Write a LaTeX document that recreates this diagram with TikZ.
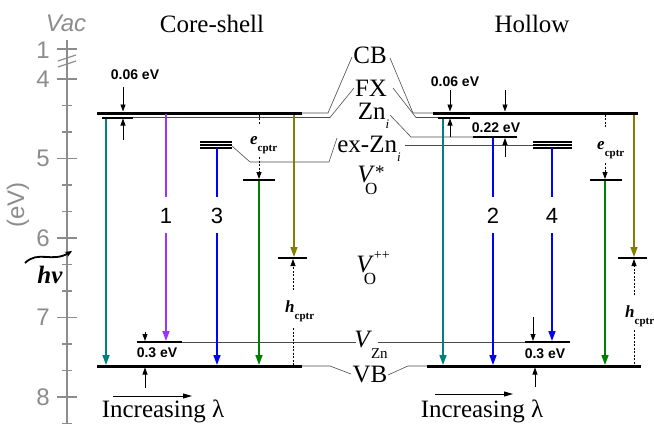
\documentclass[tikz,border=0pt]{standalone}
\usepackage{fontspec}
\setmainfont{Liberation Serif}
\setsansfont{Liberation Sans}
\usetikzlibrary{arrows.meta}
\definecolor{axgray}{RGB}{140,140,140}
\definecolor{tealc}{RGB}{0,128,128}
\definecolor{purpc}{RGB}{153,51,255}
\definecolor{bluec}{RGB}{0,0,255}
\definecolor{grnc}{RGB}{0,128,0}
\definecolor{olvc}{RGB}{128,128,0}
\newcommand\fs[1]{\fontsize{#1}{#1}\selectfont}
\newcommand\capt[1]{\textbf{\textit{#1}}\raisebox{-7pt}{\fs{11}\bfseries cptr}}
\begin{document}
\begin{tikzpicture}[x=1pt,y=-1pt,
  axis/.style={axgray,line width=1.6pt},
  ticklab/.style={axgray,font=\sffamily\fs{24},inner sep=0pt},
  lvl/.style={line width=3pt},
  bar/.style={line width=2pt},
  tri/.style={line width=1.3pt},
  thinl/.style={black!70,line width=0.6pt},
  tr/.style={line width=1.5pt,-{Triangle[length=10pt,width=7pt]}},
  trn/.style={line width=1.5pt},
  sm/.style={line width=0.8pt,-{Triangle[length=7pt,width=5pt]}},
  dsh/.style={line width=0.8pt,dash pattern=on 2pt off 1.5pt},
  dsha/.style={dsh,-{Triangle[length=7pt,width=5pt]}},
  lab/.style={inner sep=0pt,font=\fs{25}},
  ev/.style={inner sep=0pt,font=\sffamily\bfseries\fs{14}},
  num/.style={inner sep=0pt,font=\sffamily\fs{22}},
  captxt/.style={inner sep=0pt,font=\fs{17},anchor=base west},
  tit/.style={inner sep=0pt,font=\fs{25},anchor=base}]
\useasboundingbox (0,0) rectangle (654,424);
% ---------- axis ----------
\coordinate (axT) at (67,40);
\coordinate (axB) at (67,424);
\draw[axis] (axT) -- (axB);
\draw[axis] (57,49) -- (77,49);
\node[ticklab] (t1) at (43,50) {1};
\draw[axis,line width=1.2pt] (58,61) -- (76,55);
\draw[axis,line width=1.2pt] (58,67) -- (76,61);
\foreach \e in {4,5,6,7,8}{
  \draw[axis] (57,{79+(\e-4)*79.5}) -- (77,{79+(\e-4)*79.5});
  \node[ticklab] (t\e) at (43,{79+(\e-4)*79.5}) {\e};
}
\foreach \k in {1,2,4,5,7,8,10,11,13}{
  \draw[axis] (62,{79+\k*26.5}) -- (72,{79+\k*26.5});
}
\node[inner sep=0pt,axgray,font=\sffamily\itshape\fs{24},anchor=base] (vac) at (66,31) {Vac};
\node[inner sep=0pt,axgray,font=\sffamily\fs{24},rotate=90] (evu) at (18,205) {(eV)};
\node[inner sep=0pt,font=\bfseries\itshape\fs{25},anchor=base] (hnu) at (50,283) {hν};
\coordinate (w1) at (25,263);
\coordinate (w2) at (72,251);
\draw[line width=1.8pt,-{Stealth[length=7pt,width=6pt]}] (w1) .. controls (38,250) and (52,263) .. (w2);
% ---------- titles ----------
\node[tit] (tcs) at (212,32) {Core-shell};
\node[tit] (tho) at (532,32) {Hollow};
% ---------- core-shell levels ----------
\draw[lvl] (97,113) coordinate (cbLa) -- (302,113) coordinate (cbLb);
\draw[lvl] (97,366) coordinate (vbLa) -- (302,366) coordinate (vbLb);
\draw[bar] (102,117.5) coordinate (fxLa) -- (133,117.5) coordinate (fxLb);
\foreach \yy in {142,145,148}{\draw[tri] (200,\yy) -- (232,\yy);}
\coordinate (trLb) at (232,146);
\draw[bar] (243,180) coordinate (voLa) -- (275,180) coordinate (voLb);
\draw[bar] (278,258) coordinate (vpLa) -- (307,258) coordinate (vpLb);
\draw[bar] (137,342) coordinate (vzLa) -- (182,342) coordinate (vzLb);
% ---------- hollow levels ----------
\draw[lvl] (433,113) coordinate (cbRa) -- (638,113) coordinate (cbRb);
\draw[lvl] (427,366) coordinate (vbRa) -- (641,366) coordinate (vbRb);
\draw[bar] (438,117.5) coordinate (fxRa) -- (470,117.5) coordinate (fxRb);
\draw[bar] (473,137) coordinate (znRa) -- (517,137) coordinate (znRb);
\foreach \yy in {142,145,148}{\draw[tri] (533,\yy) -- (572,\yy);}
\coordinate (trRa) at (533,145);
\draw[bar] (590,180) coordinate (voRa) -- (622,180) coordinate (voRb);
\draw[bar] (618,258) coordinate (vpRa) -- (647,258) coordinate (vpRb);
\draw[bar] (525,342) coordinate (vzRa) -- (570,342) coordinate (vzRb);
% ---------- middle labels ----------
\node[lab,anchor=base] (cbT) at (370,63) {CB};
\node[lab,anchor=base] (fxT) at (371,96) {FX};
\node[lab,anchor=base] (znT) at (373.5,119) {Zn\raisebox{-9pt}{\fs{13}\itshape i}};
\node[lab,anchor=base] (exT) at (369,152) {ex-Zn\raisebox{-9pt}{\fs{13}\itshape i}};
\node[lab,anchor=base] (voT) at (371,182) {\textit{V}\raisebox{-12.5pt}{\rlap{\kern-10pt\fs{17}O}}\raisebox{4pt}{\fs{19}*}};
\node[lab,anchor=base] (vpT) at (373,272) {\textit{V}\raisebox{-12.5pt}{\rlap{\kern-10pt\fs{17}O}}\raisebox{13pt}{\fs{14}++}};
\node[lab,anchor=base] (vzT) at (371,347) {\textit{V}\kern-1pt\raisebox{-11pt}{\fs{15}Zn}};
\node[lab,anchor=base] (vbT) at (370,382) {VB};
% ---------- connector lines ----------
\draw[thinl] (cbLb) -- (328,113) -- (352,57);
\draw[thinl] (fxLb) -- (330,117.5) -- (354,88);
\draw[thinl] (390,58) -- (413,113) -- (cbRa);
\draw[thinl] (393,88) -- (416,117.5) -- (fxRa);
\draw[thinl] (390,115) -- (411,137) -- (znRa);
\draw[thinl] (trLb) -- (250,162) -- (329,162) -- (337,138);
\draw[thinl] (405,145) -- (trRa);
\draw[thinl] (vzLb) -- (356,342);
\draw[thinl] (378,342) -- (vzRa);
\draw[thinl] (vbLb) -- (330,366) -- (351,374);
\draw[thinl] (388,375) -- (408,366) -- (vbRa);
% ---------- core-shell transitions ----------
\draw[tr,tealc] (106,118.5) -- (106,365);
\draw[trn,purpc] (166,114) -- (166,197);
\node[num] (n1) at (166,216) {1};
\draw[tr,purpc] (166,233) -- (166,341);
\draw[trn,bluec] (217,148) -- (217,197);
\node[num] (n3) at (217,216) {3};
\draw[tr,bluec] (217,233) -- (217,365);
\draw[tr,grnc] (259,181) -- (259,365);
\draw[tr,olvc] (294,114.5) -- (294,257);
\draw[sm] (123,87) -- (123,111.5);
\draw[sm] (123,140) -- (123,118.5);
\node[ev] (evL1) at (135,75) {0.06 eV};
\draw[sm] (145,332) -- (145,341);
\draw[sm] (145,388) -- (145,367.5);
\node[ev] (evL2) at (157,353) {0.3 eV};
\draw[dsh] (259,114.5) -- (259,124);
\node[captxt] (ecL) at (250,144) {\capt{e}};
\draw[dsha] (259,157) -- (259,179);
\draw[dsha] (293,290) -- (293,259);
\node[captxt] (hcL) at (285,312) {\capt{h}};
\draw[dsh] (293,328) -- (293,364.5);
% ---------- hollow transitions ----------
\draw[tr,tealc] (443,118.5) -- (443,365);
\draw[trn,bluec] (493,138) -- (493,197);
\node[num] (n2) at (493,216) {2};
\draw[tr,bluec] (493,233) -- (493,365);
\draw[trn,bluec] (552,148) -- (552,197);
\node[num] (n4) at (552,216) {4};
\draw[tr,bluec] (552,233) -- (552,341);
\draw[tr,grnc] (605,181) -- (605,365);
\draw[tr,olvc] (634,114.5) -- (634,257);
\draw[sm] (450,90) -- (450,111.5);
\draw[sm] (450,137) -- (450,118.5);
\node[ev] (evR1) at (455,82) {0.06 eV};
\draw[sm] (505,90) -- (505,111.5);
\draw[sm] (505,157) -- (505,138);
\node[ev] (evR2) at (496,128) {0.22 eV};
\draw[sm] (533,317) -- (533,341);
\draw[sm] (535,387) -- (535,367.5);
\node[ev] (evR3) at (545,354) {0.3 eV};
\draw[dsh] (605,114.5) -- (605,127);
\node[captxt] (ecR) at (597,149) {\capt{e}};
\draw[dsha] (605,163) -- (605,179);
\draw[dsha] (634,295) -- (634,259);
\node[captxt] (hcR) at (625,317) {\capt{h}};
\draw[dsh] (634,330) -- (634,364.5);
% ---------- increasing lambda ----------
\draw[line width=0.8pt,-{Triangle[length=9pt,width=5pt]}] (113,396) coordinate (ilA) -- (192,396) coordinate (ilB);
\node[tit] (incL) at (163,417) {Increasing λ};
\draw[line width=0.8pt,-{Triangle[length=9pt,width=5pt]}] (435,394) coordinate (irA) -- (513,394) coordinate (irB);
\node[tit] (incR) at (482,417) {Increasing λ};
\end{tikzpicture}
\end{document}
